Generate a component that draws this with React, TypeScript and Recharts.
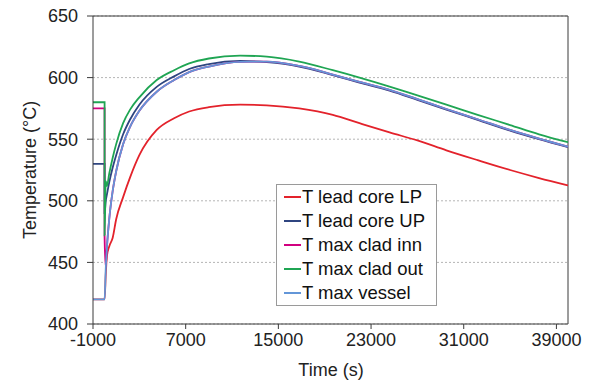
import {
  LineChart,
  Line,
  XAxis,
  YAxis,
  CartesianGrid,
  Legend,
  ReferenceLine,
  Label,
} from "recharts";

const times = [
  -1000, 0, 1, 100, 200, 400, 700, 1000, 1600, 2200, 3000, 4500, 6000, 7300, 9000,
  11700, 14000, 16800, 19700, 22000, 24600, 27000, 29500, 32200, 35000, 37500, 40000,
];

const leadCoreLP = [
  420, 420, 420, 440, 455, 463, 470, 485, 503, 519, 537, 557.5, 567, 572.5, 576,
  578, 577.5, 575, 569.8, 563, 555.5, 549, 541, 533, 525, 518.5, 512.5,
];
const leadCoreUP = [
  530, 530, 490, 500, 505, 515, 527, 537, 554, 566, 578, 592.5, 601, 607, 611,
  613.5, 612.5, 609, 602, 596, 589.5, 582, 574, 565.7, 557, 550, 543.5,
];
const cladInn = [
  575, 575, 470, 446, 462, 485, 508, 524, 546, 560, 573, 588.5, 598, 604.5, 609,
  612.8, 613, 609.5, 602.5, 596.5, 590, 582.5, 574.5, 566.2, 557.5, 550.5, 544,
];
const cladOut = [
  580, 580, 472, 516, 512, 522, 535, 546, 563, 574, 584, 598, 606, 611.5, 615.5,
  617.8, 617, 613, 606, 600, 592.7, 585.5, 578, 569.8, 561.5, 554, 547.5,
];
const vessel = [
  420, 420, 420, 445, 462, 485, 508, 524, 546, 560, 573, 588.5, 598, 604.5, 609,
  612.8, 613, 609.5, 602.5, 596.5, 590, 582.5, 574.5, 566.2, 557.5, 550.5, 544,
];

const xTicks = [-1000, 7000, 15000, 23000, 31000, 39000];
const yTicks = [400, 450, 500, 550, 600, 650];

const series = [
  { key: "lp", name: "T lead core LP", color: "#e3222b", values: leadCoreLP },
  { key: "up", name: "T lead core UP", color: "#2f4580", values: leadCoreUP },
  { key: "inn", name: "T max clad inn", color: "#d1007f", values: cladInn },
  { key: "out", name: "T max clad out", color: "#1fa553", values: cladOut },
  { key: "ves", name: "T max vessel", color: "#6396d8", values: vessel },
];

const data = times.map((t, i) => {
  const row: Record<string, number> = { t };
  series.forEach((s) => {
    row[s.key] = s.values[i];
  });
  return row;
});

const font = "'Liberation Sans', Arial, sans-serif";
const axisColor = "#3a3a3a";

const renderLegend = () => (
  <div
    style={{
      border: "1px solid #9a9a9a",
      background: "#fff",
      fontFamily: font,
      fontSize: 18.5,
      color: "#111",
      width: 159,
    }}
  >
    {series.map((s) => (
      <div key={s.key} style={{ display: "flex", alignItems: "center", height: 24 }}>
        <span
          style={{
            display: "inline-block",
            width: 17,
            height: 0,
            borderTop: `2px solid ${s.color}`,
            marginLeft: 7,
            marginRight: 1,
          }}
        />
        <span>{s.name}</span>
      </div>
    ))}
  </div>
);

export default function App() {
  return (
    <div style={{ position: "absolute", left: 0, top: 0, background: "#fff" }}>
      <LineChart
        width={591}
        height={382}
        data={data}
        margin={{ top: 16, right: 23, bottom: 0, left: 0 }}
      >
        <CartesianGrid
          vertical={false}
          stroke="#b5b5b5"
          strokeDasharray="2 2"
        />
        <XAxis
          dataKey="t"
          type="number"
          domain={[-1000, 40000]}
          ticks={xTicks}
          allowDataOverflow
          height={58}
          tickSize={5}
          tickMargin={4}
          stroke={axisColor}
          tick={{ fill: "#222", fontSize: 18, fontFamily: font }}
        >
          <Label
            content={() => (
              <text
                x={331}
                y={370}
                textAnchor="middle"
                dominantBaseline="central"
                fontSize={18}
                fontFamily={font}
                fill="#222"
              >
                Time (s)
              </text>
            )}
          />
        </XAxis>
        <YAxis
          type="number"
          domain={[400, 650]}
          ticks={yTicks}
          allowDataOverflow
          width={93}
          tickSize={6}
          tickMargin={9}
          stroke={axisColor}
          tick={{ fill: "#222", fontSize: 18, fontFamily: font }}
        >
          <Label
            content={() => (
              <text
                x={30}
                y={170}
                transform="rotate(-90 30 170)"
                textAnchor="middle"
                dominantBaseline="central"
                fontSize={18}
                fontFamily={font}
                fill="#222"
              >
                Temperature (°C)
              </text>
            )}
          />
        </YAxis>
        <ReferenceLine x={40000} stroke={axisColor} />
        <ReferenceLine y={650} stroke={axisColor} />
        {series.map((s) => (
          <Line
            key={s.key}
            dataKey={s.key}
            name={s.name}
            type="monotone"
            stroke={s.color}
            strokeWidth={1.8}
            dot={false}
            isAnimationActive={false}
          />
        ))}
        <Legend
          layout="vertical"
          align="center"
          verticalAlign="middle"
          content={renderLegend}
          wrapperStyle={{ left: 276, top: 184, width: "auto" }}
        />
      </LineChart>
    </div>
  );
}
